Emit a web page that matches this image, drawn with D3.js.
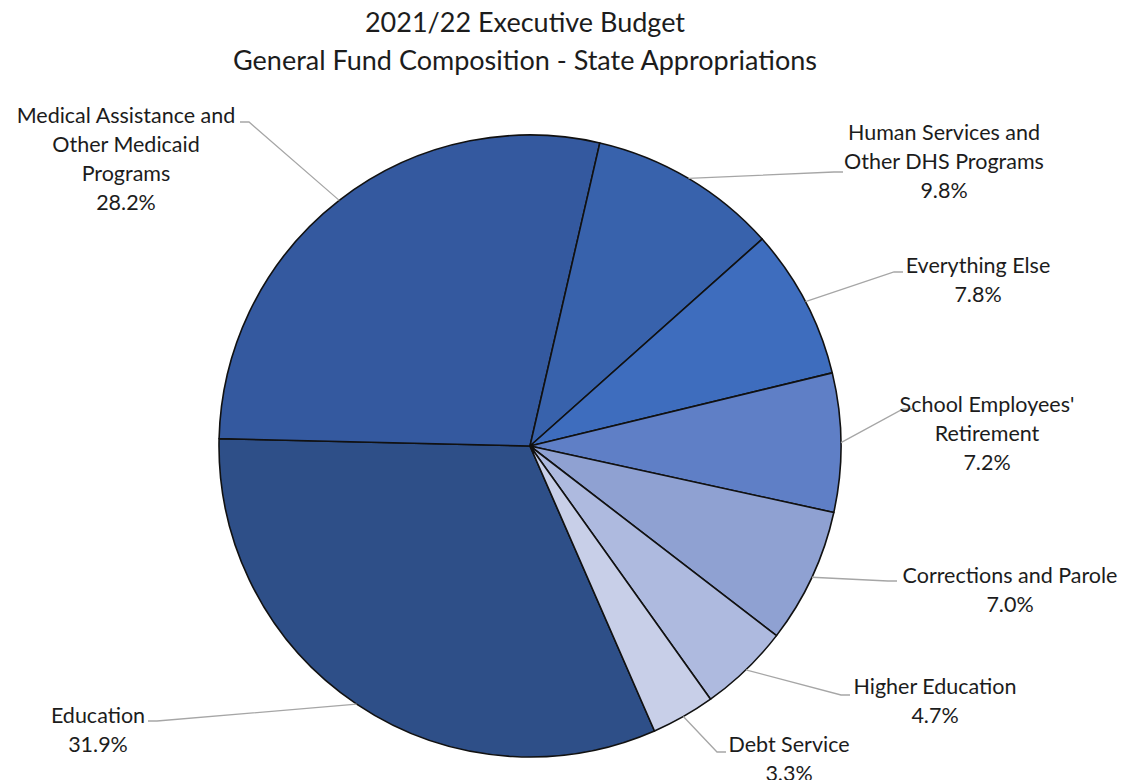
<!DOCTYPE html>
<html>
<head>
<meta charset="utf-8">
<script src="https://cdn.jsdelivr.net/npm/d3@7"></script>
<style>
  html, body { margin: 0; padding: 0; background: #fff; }
  svg text { font-family: Lato, "Open Sans", sans-serif; fill: #1c1c1c; }
</style>
</head>
<body>
<svg id="chart" width="1128" height="780"></svg>
<script>
// Budget categories, in drawing order (clockwise)
const categories = [
  "Education",
  "Medical Assistance and Other Medicaid Programs",
  "Human Services and Other DHS Programs",
  "Everything Else",
  "School Employees' Retirement",
  "Corrections and Parole",
  "Higher Education",
  "Debt Service"
];
// Share of General Fund state appropriations (%)
const shares = [31.9, 28.2, 9.8, 7.8, 7.2, 7.0, 4.7, 3.3];
// Label text broken into lines
const labelLines = [
  ["Education"],
  ["Medical Assistance and", "Other Medicaid", "Programs"],
  ["Human Services and", "Other DHS Programs"],
  ["Everything Else"],
  ["School Employees'", "Retirement"],
  ["Corrections and Parole"],
  ["Higher Education"],
  ["Debt Service"]
];
const sliceColors = ["#2E4F88", "#34599F", "#3862AC", "#3E6DBE", "#5F7FC6", "#8FA1D2", "#AEBADF", "#C8CFE8"];

// Label placement: text center x, first baseline y, and where the leader line meets the text
const labelLayout = [
  { tx: 98,  ty: 723, ex: 148, ey: 721, side: "right" },
  { tx: 126, ty: 123, ex: 240, ey: 122, side: "right" },
  { tx: 944, ty: 140, ex: 843, ey: 172, side: "left" },
  { tx: 978, ty: 273, ex: 903, ey: 272, side: "left" },
  { tx: 987, ty: 412, ex: 912, ey: 409, side: "left" },
  { tx: 1010, ty: 583, ex: 897, ey: 581, side: "left" },
  { tx: 935, ty: 694, ex: 850, ey: 695, side: "left" },
  { tx: 789, ty: 752, ex: 726, ey: 752, side: "left" }
];

const svg = d3.select("#chart");
const cx = 530, cy = 446, R = 311;
const startDeg = 156.4;
const lineH = 29;

// Title
svg.append("text").attr("x", 525).attr("y", 32).attr("text-anchor", "middle")
  .style("font-size", "27px").text("2021/22 Executive Budget");
svg.append("text").attr("x", 525).attr("y", 70).attr("text-anchor", "middle")
  .style("font-size", "27px").text("General Fund Composition - State Appropriations");

const pie = d3.pie().sort(null).value(d => d)
  .startAngle(startDeg * Math.PI / 180)
  .endAngle(startDeg * Math.PI / 180 + 2 * Math.PI);
const arcs = pie(shares);
const arc = d3.arc().innerRadius(0).outerRadius(R);

const g = svg.append("g").attr("transform", `translate(${cx},${cy})`);
g.selectAll("path.slice").data(arcs).join("path")
  .attr("class", "slice")
  .attr("d", arc)
  .attr("fill", (d, i) => sliceColors[i])
  .attr("stroke", "#111")
  .attr("stroke-width", 1.6)
  .attr("stroke-linejoin", "round");

// Leader lines: from the slice's mid-angle on the rim to a short horizontal tail beside the label
const tail = 9;
arcs.forEach((a, i) => {
  const mid = (a.startAngle + a.endAngle) / 2;
  const px = cx + R * Math.sin(mid), py = cy - R * Math.cos(mid);
  const L = labelLayout[i];
  const kx = L.side === "left" ? L.ex - tail : L.ex + tail;
  svg.append("polyline")
    .attr("points", `${px},${py} ${kx},${L.ey} ${L.ex},${L.ey}`)
    .attr("fill", "none")
    .attr("stroke", "#A6A6A6")
    .attr("stroke-width", 1.3);
});

// Labels: category name lines followed by the percentage
arcs.forEach((a, i) => {
  const L = labelLayout[i];
  const lines = labelLines[i].concat([d3.format(".1f")(a.data) + "%"]);
  const t = svg.append("text").attr("text-anchor", "middle").style("font-size", "21.5px");
  lines.forEach((s, j) => {
    t.append("tspan").attr("x", L.tx).attr("y", L.ty + j * lineH).text(s);
  });
});
</script>
</body>
</html>
